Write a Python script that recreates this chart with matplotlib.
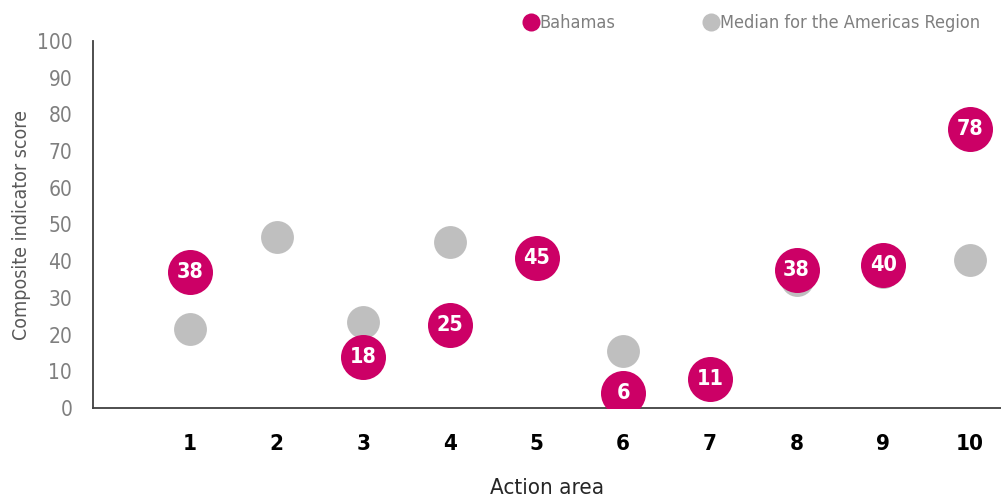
import matplotlib
matplotlib.use("Agg")
import matplotlib.pyplot as plt
from matplotlib import font_manager as fm
from matplotlib.lines import Line2D

# ---- data ----
action_areas = [1, 2, 3, 4, 5, 6, 7, 8, 9, 10]
bahamas_labels = [38, None, 18, 25, 45, 6, 11, 38, 40, 78]
bahamas_pos = [37, None, 14, 22.6, 41, 4.2, 7.9, 37.6, 39, 76]
median_americas = [21.5, 46.7, 23.5, 45.2, 41, 15.5, 7.9, 35, 37, 40.3]
y_ticks = [0, 10, 20, 30, 40, 50, 60, 70, 80, 90, 100]

files = [f.fname for f in fm.fontManager.ttflist]
def find(keys):
    for k in keys:
        for f in files:
            if k.lower() in f.lower().split('/')[-1]:
                return f
    return None

reg_file = find(['LiberationSansNarrow-Regular', 'DejaVuSansCondensed.ttf'])
bold_file = find(['LiberationSansNarrow-Bold.', 'DejaVuSansCondensed-Bold.ttf'])
REG = fm.FontProperties(fname=reg_file) if reg_file else fm.FontProperties(family='Liberation Sans')
BOLD = fm.FontProperties(fname=bold_file) if bold_file else fm.FontProperties(family='Liberation Sans', weight='bold')

def fp(base, size):
    p = base.copy()
    p.set_size(size)
    return p

MAG = '#CC0066'
GRAY = '#BFBFBF'
TXT = '#7F7F7F'

fig = plt.figure(figsize=(10.01, 5.0), dpi=100)
ax = fig.add_axes([93/1001, 92/500, 1 - 93/1001, 367/500])

bx = [x for x, v in zip(action_areas, bahamas_pos) if v is not None]
by = [v for v in bahamas_pos if v is not None]
bl = [v for v in bahamas_labels if v is not None]

ax.scatter(action_areas, median_americas, s=560, color=GRAY, zorder=2, linewidths=0)
ax.scatter(bx, by, s=1050, color=MAG, zorder=3, linewidths=0)
for x, y, l in zip(bx, by, bl):
    ax.text(x, y, str(l), ha='center', va='center', color='white',
            fontproperties=fp(BOLD, 15.5), zorder=4)

ax.set_xlim(-0.12, 10.36)
ax.set_ylim(0, 100)
ax.set_yticks(y_ticks)
ax.set_xticks(action_areas)
ax.set_xticklabels([str(a) for a in action_areas], fontproperties=fp(BOLD, 16), color='black')
ax.set_yticklabels([str(t) for t in y_ticks], fontproperties=fp(REG, 15), color=TXT)
ax.tick_params(axis='x', length=0, pad=19)
ax.tick_params(axis='y', length=0, pad=15)

for s in ['top', 'right']:
    ax.spines[s].set_visible(False)
for s in ['left', 'bottom']:
    ax.spines[s].set_color('#404040')
    ax.spines[s].set_linewidth(1.3)

ax.set_xlabel('Action area', fontproperties=fp(REG, 16), color='#262626', labelpad=17)
ax.set_ylabel('Composite indicator score', fontproperties=fp(REG, 14), color='#595959')
ax.yaxis.set_label_coords((31 - 93) / 908, 0.5)

handles = [Line2D([], [], marker='o', linestyle='', markersize=13, color=MAG, markeredgewidth=0),
           Line2D([], [], marker='o', linestyle='', markersize=13, color=GRAY, markeredgewidth=0)]
fig.legend(handles, ['Bahamas', 'Median for the Americas Region'], loc='center',
           bbox_to_anchor=(751/1001, 1 - 23/500), ncol=2, frameon=False,
           prop=fp(REG, 13), labelcolor=TXT, handletextpad=0.0, columnspacing=4.8,
           handlelength=1.0)

fig.savefig('out.png', dpi=100)
